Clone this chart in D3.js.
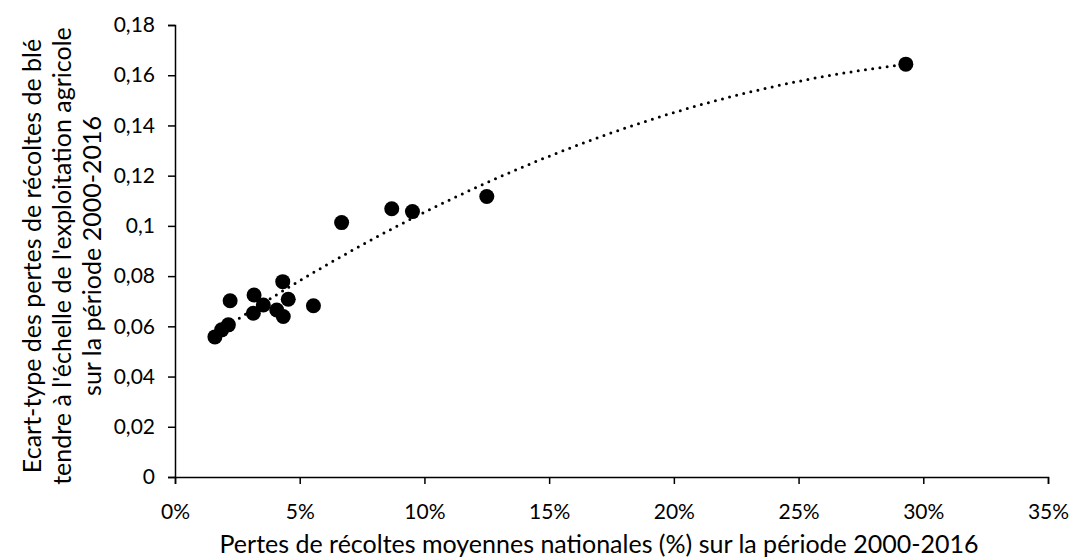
<!DOCTYPE html>
<html><head><meta charset="utf-8">
<script src="https://cdn.jsdelivr.net/npm/d3@7"></script>
<style>body{margin:0;background:#fff;} text{font-family:Lato, "Open Sans", sans-serif;fill:#000;}</style>
</head><body><svg id="c" width="1070" height="559"></svg>
<script>
const lossPct = [1.60, 1.87, 2.14, 2.21, 3.17, 3.14, 3.54, 4.08, 4.34, 4.32, 4.54, 5.55, 6.68, 8.69, 9.52, 12.50, 29.30];
const stdDev  = [0.0558, 0.0586, 0.0606, 0.0702, 0.0725, 0.0652, 0.0685, 0.0665, 0.0639, 0.0778, 0.0708, 0.0682, 0.1013, 0.1068, 0.1057, 0.1117, 0.1644];
const xTicks = [0, 5, 10, 15, 20, 25, 30, 35];
const yTicks = [0, 0.02, 0.04, 0.06, 0.08, 0.1, 0.12, 0.14, 0.16, 0.18];
const xTitle = "Pertes de récoltes moyennes nationales (%) sur la période 2000-2016";
const yTitle = ["Ecart-type des pertes de récoltes de blé", "tendre à l'échelle de l'exploitation agricole", "sur la période 2000-2016"];

const svg = d3.select("#c");
const x = d3.scaleLinear().domain([0, 35]).range([175, 1048]);
const y = d3.scaleLinear().domain([0, 0.18]).range([477, 25]);

// axes
const xAxis = d3.axisBottom(x).tickValues(xTicks).tickSize(7).tickFormat(d => d + "%");
const yAxis = d3.axisLeft(y).tickValues(yTicks).tickSize(7).tickFormat(d => String(+d.toFixed(2)).replace(".", ","));
const gx = svg.append("g").attr("transform", "translate(0,477)").call(xAxis);
const gy = svg.append("g").attr("transform", "translate(175,0)").call(yAxis);
[gx, gy].forEach(g => {
  g.select(".domain").attr("stroke", "#000").attr("stroke-width", 1.5);
  g.selectAll(".tick line").attr("stroke", "#000").attr("stroke-width", 1.5);
  g.selectAll(".tick text").style("font-size", "21px").style("font-family", "Lato, sans-serif").attr("fill", "#000");
});
gx.selectAll(".tick text").attr("y", 27).attr("dy", "0.71em");
gy.selectAll(".tick text").attr("x", -20);

// quadratic least-squares trendline computed from data
function polyfit2(xs, ys) {
  let S = Array.from({length: 5}, () => 0), T = [0, 0, 0];
  xs.forEach((xi, i) => { for (let k = 0; k < 5; k++) S[k] += Math.pow(xi, k); for (let k = 0; k < 3; k++) T[k] += ys[i] * Math.pow(xi, k); });
  const M = [[S[0], S[1], S[2], T[0]], [S[1], S[2], S[3], T[1]], [S[2], S[3], S[4], T[2]]];
  for (let i = 0; i < 3; i++) {
    for (let j = i + 1; j < 3; j++) { const f = M[j][i] / M[i][i]; for (let k = i; k < 4; k++) M[j][k] -= f * M[i][k]; }
  }
  const c = [0, 0, 0];
  for (let i = 2; i >= 0; i--) { let s = M[i][3]; for (let k = i + 1; k < 3; k++) s -= M[i][k] * c[k]; c[i] = s / M[i][i]; }
  return c;
}
const coef = polyfit2(lossPct, stdDev);
const xmin = d3.min(lossPct), xmax = d3.max(lossPct);
const trend = d3.range(0, 201).map(i => { const xv = xmin + (xmax - xmin) * i / 200; return [xv, coef[0] + coef[1] * xv + coef[2] * xv * xv]; });
svg.append("path").datum(trend)
  .attr("d", d3.line().x(d => x(d[0])).y(d => y(d[1])))
  .attr("fill", "none").attr("stroke", "#000").attr("stroke-width", 3)
  .attr("stroke-linecap", "round").attr("stroke-dasharray", "0 7.3");

// points
svg.append("g").selectAll("circle").data(lossPct).join("circle")
  .attr("cx", d => x(d)).attr("cy", (d, i) => y(stdDev[i])).attr("r", 7.5).attr("fill", "#000");

// titles
svg.append("text").attr("x", 599).attr("y", 553).attr("text-anchor", "middle").style("font-size", "25px").text(xTitle);
const yt = svg.append("text").attr("transform", "translate(0,256) rotate(-90)").attr("text-anchor", "middle").style("font-size", "25px");
yTitle.forEach((t, i) => yt.append("tspan").attr("x", 0).attr("y", 41 + i * 30).text(t));
</script></body></html>
